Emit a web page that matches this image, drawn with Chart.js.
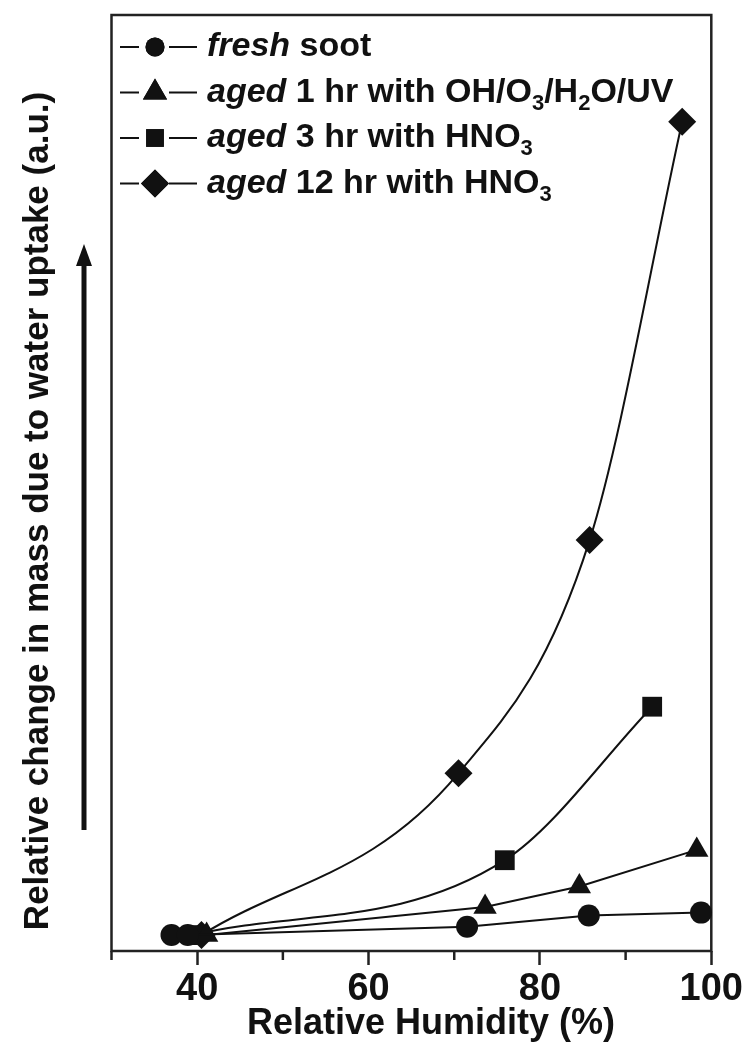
<!DOCTYPE html>
<html>
<head>
<meta charset="utf-8">
<script src="https://cdn.jsdelivr.net/npm/chart.js@4.4.1/dist/chart.umd.min.js"></script>
<style>
  html, body { margin: 0; padding: 0; background: #fff; }
  #wrap { width: 749px; height: 1045px; }
</style>
</head>
<body>
<div id="wrap"><canvas id="rhChart"></canvas></div>
<script>
// relative humidity (%) and water uptake (a.u.) for each soot sample
const freshRH = [37.0, 38.9, 71.5, 85.7, 98.8];
const freshMass = [1.7, 1.7, 2.6, 3.8, 4.1];
const uvRH = [41.1, 73.6, 84.6, 98.3];
const uvMass = [1.7, 4.7, 6.9, 10.8];
const hno3ShortRH = [39.5, 75.9, 93.1];
const hno3ShortMass = [1.7, 9.7, 26.1];
const hno3LongRH = [40.5, 70.5, 85.8, 96.6];
const hno3LongMass = [1.7, 19.0, 43.9, 88.6];

const xTickLabels = [40, 60, 80, 100];
const xTitle = 'Relative Humidity (%)';
const yTitle = 'Relative change in mass due to water uptake (a.u.)';

// legend text pieces: i = italic, sub = subscript
const legendText = [
  [{ t: 'fresh', i: true }, { t: ' soot' }],
  [{ t: 'aged', i: true }, { t: ' 1 hr with OH/O' }, { t: '3', sub: true }, { t: '/H' }, { t: '2', sub: true }, { t: 'O/UV' }],
  [{ t: 'aged', i: true }, { t: ' 3 hr with HNO' }, { t: '3', sub: true }],
  [{ t: 'aged', i: true }, { t: ' 12 hr with HNO' }, { t: '3', sub: true }]
];

const FONT = "'Liberation Sans', Arial, sans-serif";
const INK = '#111';

function series(label, xs, ys, style, radius, curved) {
  return {
    label,
    data: xs.map((x, i) => ({ x, y: ys[i] })),
    borderColor: INK,
    backgroundColor: INK,
    borderWidth: 2,
    pointStyle: style,
    pointRadius: radius,
    pointHoverRadius: radius,
    pointBorderWidth: 0,
    tension: 0,
    cubicInterpolationMode: curved ? 'monotone' : 'default',
    clip: false
  };
}

const legendMarkers = [
  { style: 'circle', radius: 9.5 },
  { style: 'triangle', radius: 14 },
  { style: 'rect', radius: 12.5 },
  { style: 'rectRot', radius: 14 }
];

const extras = {
  id: 'extras',
  beforeDatasetsDraw(chart) {
    const { ctx, chartArea: a, scales: { x } } = chart;
    ctx.save();
    // frame
    ctx.strokeStyle = '#222';
    ctx.lineWidth = 2.5;
    ctx.strokeRect(a.left, a.top, a.right - a.left, a.bottom - a.top);
    // short minor ticks between the labelled ones
    x.ticks.forEach(t => {
      if (xTickLabels.includes(t.value)) return;
      const px = x.getPixelForValue(t.value);
      ctx.beginPath();
      ctx.moveTo(px, a.bottom);
      ctx.lineTo(px, a.bottom + 9);
      ctx.stroke();
    });

    // axis titles
    ctx.fillStyle = INK;
    ctx.font = 'bold 36px ' + FONT;
    ctx.textAlign = 'center';
    ctx.textBaseline = 'alphabetic';
    ctx.fillText(xTitle, 431, 1034);

    ctx.save();
    ctx.translate(38, 511);
    ctx.rotate(-Math.PI / 2);
    ctx.font = 'bold 35px ' + FONT;
    ctx.textBaseline = 'middle';
    ctx.fillText(yTitle, 0, 0);
    ctx.restore();

    // upward arrow beside the y title
    ctx.strokeStyle = INK;
    ctx.lineWidth = 5;
    ctx.beginPath();
    ctx.moveTo(84, 830);
    ctx.lineTo(84, 262);
    ctx.stroke();
    ctx.beginPath();
    ctx.moveTo(84, 244);
    ctx.lineTo(92, 266);
    ctx.lineTo(76, 266);
    ctx.closePath();
    ctx.fill();
    ctx.restore();
  },
  afterDatasetsDraw(chart) {
    const { ctx } = chart;
    ctx.save();
    ctx.fillStyle = INK;
    ctx.strokeStyle = INK;
    ctx.textBaseline = 'middle';
    legendText.forEach((parts, row) => {
      const y = 47 + row * 45.5;
      ctx.lineWidth = 2;
      ctx.beginPath();
      ctx.moveTo(120, y);
      ctx.lineTo(139, y);
      ctx.moveTo(169, y);
      ctx.lineTo(197, y);
      ctx.stroke();
      const m = legendMarkers[row];
      Chart.helpers.drawPoint(ctx, { pointStyle: m.style, radius: m.radius, borderWidth: 0, rotation: 0 }, 155, y);
      ctx.fill();
      let tx = 207;
      parts.forEach(p => {
        ctx.font = (p.i ? 'italic ' : '') + 'bold ' + (p.sub ? 22 : 34) + 'px ' + FONT;
        ctx.fillText(p.t, tx, p.sub ? y + 11 : y);
        tx += ctx.measureText(p.t).width;
      });
    });
    ctx.restore();
  }
};

new Chart(document.getElementById('rhChart'), {
  type: 'line',
  data: {
    datasets: [
      series('fresh soot', freshRH, freshMass, 'circle', 11, false),
      series('aged 1 hr with OH/O3/H2O/UV', uvRH, uvMass, 'triangle', 13.5, false),
      series('aged 3 hr with HNO3', hno3ShortRH, hno3ShortMass, 'rect', 14, true),
      series('aged 12 hr with HNO3', hno3LongRH, hno3LongMass, 'rectRot', 14, true)
    ]
  },
  options: {
    responsive: true,
    maintainAspectRatio: false,
    animation: false,
    layout: { padding: { top: 15, right: 32, left: 0, bottom: 0 } },
    plugins: { legend: { display: false }, tooltip: { enabled: false } },
    scales: {
      x: {
        type: 'linear',
        min: 30,
        max: 100,
        afterFit: s => { s.height = 94; },
        border: { display: false },
        grid: {
          drawOnChartArea: false,
          tickLength: 14,
          tickWidth: 2.5,
          tickColor: c => (c.tick && xTickLabels.includes(c.tick.value)) ? '#222' : 'rgba(0,0,0,0)'
        },
        ticks: {
          stepSize: 10,
          padding: 6,
          color: INK,
          maxRotation: 0,
          autoSkip: false,
          font: { family: FONT, size: 38, weight: 'bold', lineHeight: 1 },
          callback: v => xTickLabels.includes(v) ? String(v) : ''
        }
      },
      y: {
        min: 0,
        max: 100,
        afterFit: s => { s.width = 111.5; },
        border: { display: false },
        grid: { display: false },
        ticks: { display: false }
      }
    }
  },
  plugins: [extras]
});
</script>
</body>
</html>
